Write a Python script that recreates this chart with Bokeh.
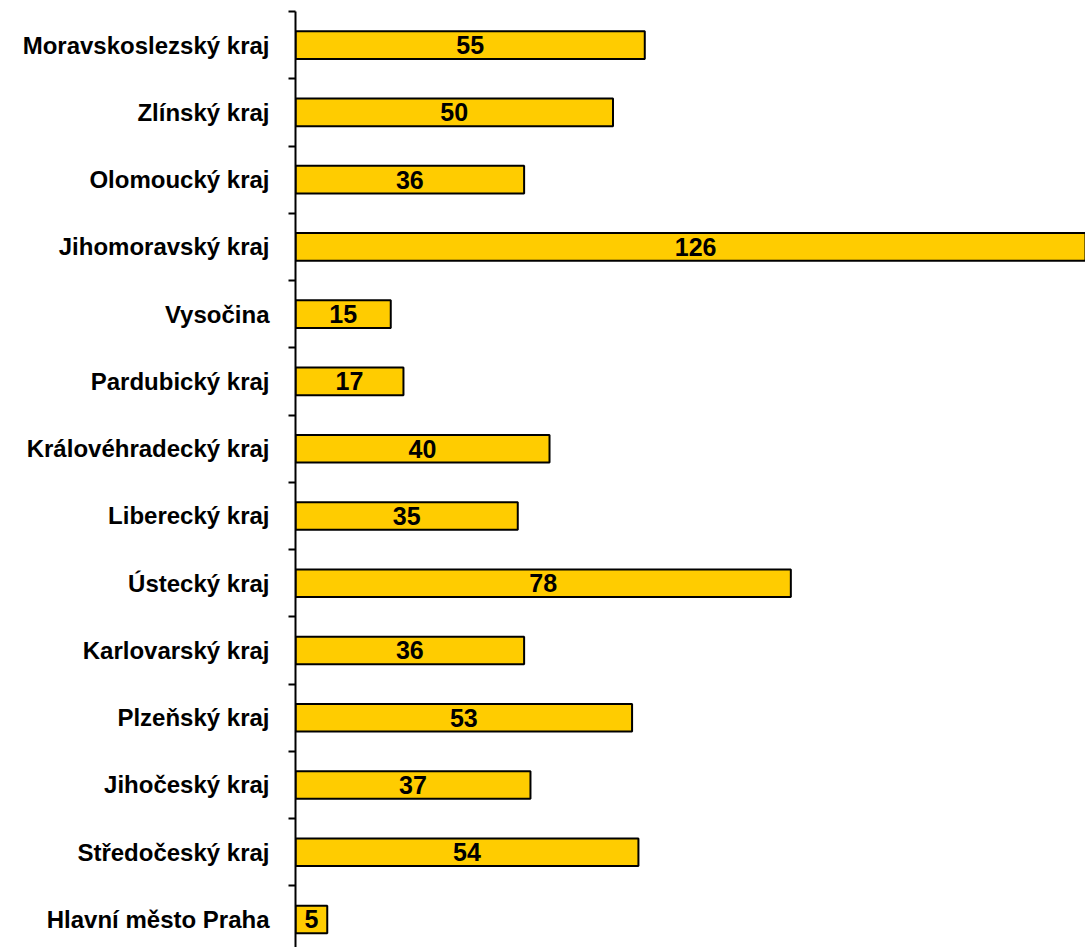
from bokeh.plotting import figure
from bokeh.models import Range1d, LinearAxis, FixedTicker, ColumnDataSource
from bokeh.core.properties import value
from bokeh.embed import file_html
from bokeh.resources import INLINE

regions = ["Hlavní město Praha", "Středočeský kraj", "Jihočeský kraj", "Plzeňský kraj",
           "Karlovarský kraj", "Ústecký kraj", "Liberecký kraj", "Královéhradecký kraj",
           "Pardubický kraj", "Vysočina", "Jihomoravský kraj", "Olomoucký kraj",
           "Zlínský kraj", "Moravskoslezský kraj"]
counts = [5, 54, 37, 53, 36, 78, 35, 40, 17, 15, 126, 36, 50, 55]

pos = [i + 0.5 for i in range(len(regions))]
src = ColumnDataSource(dict(y=pos, right=counts, mid=[c / 2 for c in counts],
                            lab=[str(c) for c in counts]))

p = figure(width=1085, height=947, output_backend="svg", toolbar_location=None,
           x_range=Range1d(0, 124.4), y_range=Range1d(0.083, 14),
           y_axis_location=None, x_axis_location=None,
           min_border_left=295, min_border_right=0, min_border_top=11, min_border_bottom=0)
p.outline_line_color = None
p.grid.visible = False
p.background_fill_color = "white"

p.hbar(y="y", right="right", left=0, height=0.41, source=src,
       fill_color="#FFCC00", line_color="black", line_width=2)
p.text(x="mid", y="y", text="lab", source=src, text_align="center", text_baseline="middle",
       text_font=value("Liberation Sans"), text_font_style="bold", text_font_size="25px",
       text_color="black")

ax = LinearAxis(ticker=FixedTicker(ticks=pos, minor_ticks=list(range(0, 15))))
ax.major_label_overrides = {pp: r for pp, r in zip(pos, regions)}
ax.major_tick_out = 0
ax.major_tick_in = 0
ax.minor_tick_out = 7
ax.minor_tick_in = 0
ax.minor_tick_line_width = 2
ax.axis_line_width = 2
ax.axis_line_color = "black"
ax.minor_tick_line_color = "black"
ax.major_label_standoff = 19
ax.major_label_text_font = "Liberation Sans"
ax.major_label_text_font_style = "bold"
ax.major_label_text_font_size = "24px"
ax.major_label_text_color = "black"
p.add_layout(ax, "left")

open("out.html", "w").write(file_html(p, INLINE))
